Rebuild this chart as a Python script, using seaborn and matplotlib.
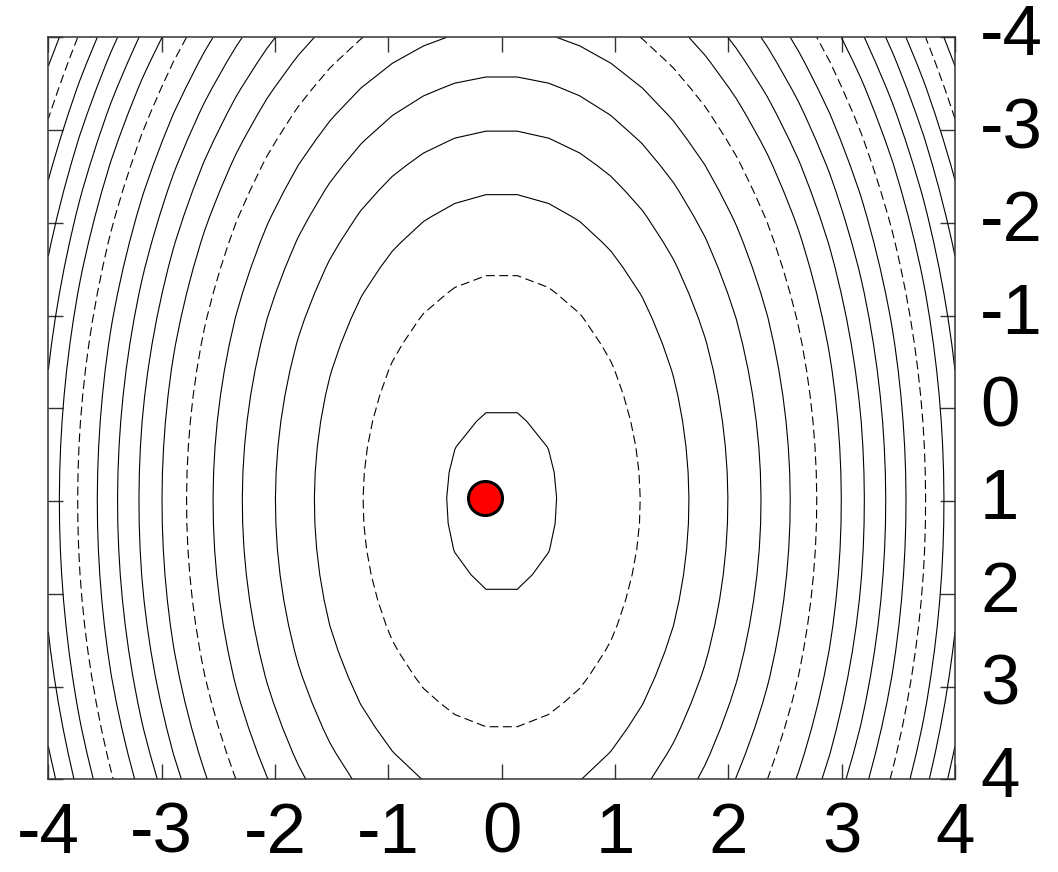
import numpy as np
import pandas as pd
import matplotlib
matplotlib.use("Agg")
import matplotlib.pyplot as plt
import seaborn as sns

# ---- data ----
x_grid = np.linspace(-4.0, 4.0, 30)         # sampling grid (x)
y_grid = np.linspace(-4.0, 4.0, 30)         # sampling grid (y)
x_weight = 4.0                              # f = x_weight*(x-cx)^2 + y_weight*(y-cy)^2
y_weight = 1.0
center_x = 0.0
center_y = 1.0
solid_levels = [1, 11, 16, 21, 26, 36, 41, 46, 51, 61, 66, 71, 76, 86]
dashed_levels = [6, 31, 56, 81]
point_x = [-0.15]
point_y = [0.97]
tick_values = [-4, -3, -2, -1, 0, 1, 2, 3, 4]
tick_labels = ["-4", "-3", "-2", "-1", "0", "1", "2", "3", "4"]

sns.set_theme(style="white")
plt.rcParams["font.family"] = ["Liberation Sans", "DejaVu Sans"]
plt.rcParams["axes.unicode_minus"] = False

fig = plt.figure(figsize=(10.58, 8.72), dpi=100)
ax = fig.add_axes([0.0457, 0.1063, 0.9026 - 0.0457, 0.9572 - 0.1063])

X, Y = np.meshgrid(x_grid, y_grid)
Z = x_weight * (X - center_x) ** 2 + y_weight * (Y - center_y) ** 2

ax.contour(X, Y, Z, levels=solid_levels, colors="black", linewidths=0.8,
           linestyles="solid")
ax.contour(X, Y, Z, levels=dashed_levels, colors="black", linewidths=0.8,
           linestyles=[(0, (8, 4))])

df = pd.DataFrame({"x": point_x, "y": point_y})
sns.scatterplot(data=df, x="x", y="y", ax=ax, color="#ff0000", s=600,
                edgecolor="black", linewidth=2.2, zorder=5, legend=False)

ax.set_xlim(-4, 4)
ax.set_ylim(4, -4)
ax.set_xticks(tick_values)
ax.set_xticklabels(tick_labels)
ax.set_yticks(tick_values)
ax.set_yticklabels(tick_labels, va="center")
ax.set_xlabel("")
ax.set_ylabel("")

ax.tick_params(axis="both", which="both", direction="in", length=11, width=1,
               color="#333333", labelsize=51, labelcolor="black",
               top=True, bottom=True, left=True, right=True,
               labelleft=False, labelright=True, labelbottom=True, labeltop=False)
ax.tick_params(axis="x", pad=16)
ax.tick_params(axis="y", pad=18)

for s in ax.spines.values():
    s.set_visible(True)
    s.set_color("#333333")
    s.set_linewidth(1.1)

fig.savefig("out.png", dpi=100, facecolor="white")
